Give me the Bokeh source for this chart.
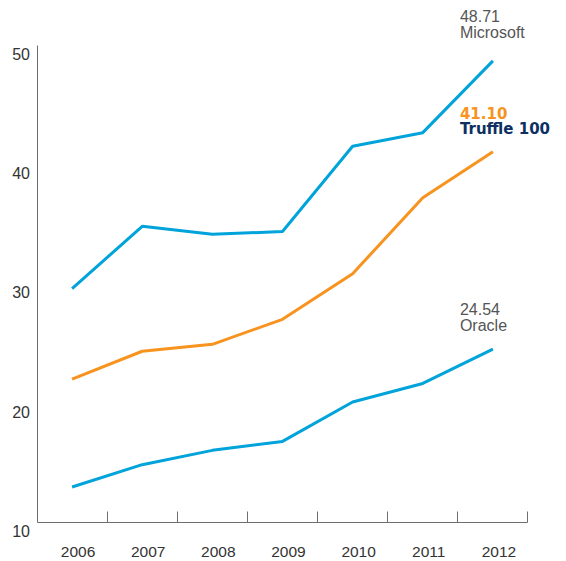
from bokeh.plotting import figure
from bokeh.models import Range1d, FixedTicker, ColumnDataSource, LabelSet, LinearAxis
from bokeh.core.properties import value
from bokeh.embed import file_html
from bokeh.resources import INLINE

# ---- data ----
years = [2006, 2007, 2008, 2009, 2010, 2011, 2012]
microsoft = [29.61, 34.84, 34.17, 34.40, 41.55, 42.69, 48.71]
truffle = [22.03, 24.36, 24.94, 27.04, 30.86, 37.24, 41.10]
oracle = [12.98, 14.85, 16.05, 16.80, 20.10, 21.66, 24.54]
y_ticks = [10, 20, 30, 40, 50]
series_names = ["Microsoft", "Truffle 100", "Oracle"]

# ---- style ----
BLUE = "#00A3DA"
ORANGE = "#F7931E"
NAVY = "#0D2F62"
GREY_TXT = "#555555"
AXIS = "#6e6e6e"
FONT = "Liberation Sans"
BOLD_FONT = "DejaVu Sans"

W, H = 566, 561
AX_LEFT_PX = 36.5      # screen x of the y axis
AX_BOTTOM_PX = 522.0   # screen y of the x axis
PX_PER_YEAR = 70.14
PX_PER_UNIT = 11.925

x0 = years[0] - 0.5
x1 = years[-1] + 0.5
y0, y1 = y_ticks[0], y_ticks[-1]

x_start = x0 - AX_LEFT_PX / PX_PER_YEAR
x_end = x_start + W / PX_PER_YEAR
y_end = y0 + AX_BOTTOM_PX / PX_PER_UNIT
y_start = y0 - (H - AX_BOTTOM_PX) / PX_PER_UNIT

p = figure(width=W, height=H, output_backend="svg", toolbar_location=None,
           x_range=Range1d(x_start, x_end), y_range=Range1d(y_start, y_end),
           min_border=0, x_axis_type=None, y_axis_type=None)
p.outline_line_color = None
p.background_fill_color = "white"
p.border_fill_color = "white"

# ---- axes ----
# x axis: tick marks between the years (drawn as minor ticks, no axis labels)
xa = LinearAxis(fixed_location=y0, bounds=(x0, x1),
                ticker=FixedTicker(ticks=[], minor_ticks=[y + 0.5 for y in years]))
xa.major_tick_line_color = None
xa.minor_tick_in = 11
xa.minor_tick_out = 0
xa.minor_tick_line_color = AXIS
xa.axis_line_color = AXIS
p.add_layout(xa, "below")

ya = LinearAxis(fixed_location=x0, bounds=(y0, y1),
                ticker=FixedTicker(ticks=[], minor_ticks=[]))
ya.major_tick_line_color = None
ya.minor_tick_line_color = None
ya.axis_line_color = AXIS
p.add_layout(ya, "left")

# ---- lines ----
p.line(years, microsoft, line_color=BLUE, line_width=3)
p.line(years, truffle, line_color=ORANGE, line_width=3)
p.line(years, oracle, line_color=BLUE, line_width=3)

# ---- tick labels ----
ysrc = ColumnDataSource(dict(x=[x0] * len(y_ticks), y=y_ticks, t=[str(v) for v in y_ticks]))
p.add_layout(LabelSet(x="x", y="y", text="t", source=ysrc, x_offset=-7, y_offset=-8.4,
                      text_align="right", text_baseline="middle",
                      text_font=value(FONT), text_font_size="16px", text_color="#333333"))

xsrc = ColumnDataSource(dict(x=years, y=[y0] * len(years), t=[str(y) for y in years]))
p.add_layout(LabelSet(x="x", y="y", text="t", source=xsrc, x_offset=6, y_offset=-29,
                      text_align="center", text_baseline="middle",
                      text_font=value(FONT), text_font_size="15.5px", text_color="#333333"))

# ---- end annotations ----
last_vals = [microsoft[-1], truffle[-1], oracle[-1]]
ann = dict(x=[], y=[], t=[], off=[], c=[], f=[], s=[], z=[])
val_offsets = [44.7, 38.4, 40.4]
name_offsets = [28.3, 22.4, 23.7]
val_colors = [GREY_TXT, ORANGE, GREY_TXT]
name_colors = [GREY_TXT, NAVY, GREY_TXT]
for i, name in enumerate(series_names):
    bold = name == "Truffle 100"
    for txt, off, col in (("%.2f" % last_vals[i], val_offsets[i], val_colors[i]),
                          (name, name_offsets[i], name_colors[i])):
        ann["x"].append(years[-1])
        ann["y"].append(last_vals[i])
        ann["t"].append(txt)
        ann["off"].append(off)
        ann["c"].append(col)
        ann["f"].append(BOLD_FONT if bold else FONT)
        ann["s"].append("bold" if bold else "normal")
        ann["z"].append("15px" if bold else "16px")
asrc = ColumnDataSource(ann)
p.add_layout(LabelSet(x="x", y="y", text="t", source=asrc, x_offset=-33, y_offset="off",
                      text_align="left", text_baseline="middle",
                      text_font="f", text_font_style="s", text_font_size="z",
                      text_color="c"))

open("out.html", "w").write(file_html(p, INLINE))
